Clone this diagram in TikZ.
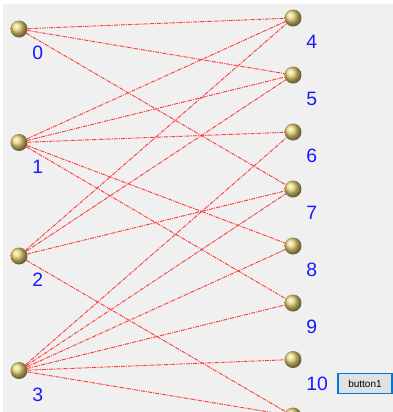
\documentclass[tikz,border=0pt]{standalone}
\usepackage{fontspec}
\setmainfont{Liberation Sans}

\definecolor{formgray}{RGB}{240,240,240}
\definecolor{ballgold}{RGB}{230,210,115}
\definecolor{numblue}{RGB}{25,25,255}
\definecolor{linkred}{RGB}{255,60,60}
\definecolor{focusblue}{RGB}{0,120,215}
\definecolor{buttongray}{RGB}{225,225,225}

\begin{document}
\begin{tikzpicture}[
  x = 0.75pt, y = -0.75pt,
  ball/.style = {
    shape = circle,
    shading = ball,
    ball color = ballgold,
    minimum size = 12.75pt,
    inner sep = 0pt,
    outer sep = 0pt,
  },
  num/.style = {
    anchor = west,
    text = numblue,
    font = \fontsize{14.5}{15}\selectfont,
    inner sep = 0pt,
  },
  link/.style = {
    draw = linkred,
    line width = 0.7pt,
    dash pattern = on 3pt off 0.8pt on 0.8pt off 0.8pt,
  },
  winbutton/.style = {
    draw = focusblue,
    fill = buttongray,
    line width = 1.3pt,
    minimum width = 41pt,
    minimum height = 15pt,
    inner sep = 0pt,
    font = \fontsize{7.5}{8}\selectfont,
  }
]
  % form background
  \fill[white] (0, 0) rectangle (393, 412);
  \fill[formgray] (3, 4) rectangle (393, 412);
  \clip (0, 0) rectangle (393, 412);

  % left column
  \node[ball] (L0) at (19, 29) {};
  \node[ball] (L1) at (19, 142.5) {};
  \node[ball] (L2) at (19, 256) {};
  \node[ball] (L3) at (19, 370.5) {};

  % right column
  \node[ball] (R4) at (293, 18) {};
  \node[ball] (R5) at (293, 75) {};
  \node[ball] (R6) at (293, 132) {};
  \node[ball] (R7) at (293, 189) {};
  \node[ball] (R8) at (293, 246) {};
  \node[ball] (R9) at (293, 303) {};
  \node[ball] (R10) at (293, 359.5) {};
  \node[ball] (R11) at (293, 416) {};

  % numbers under the balls
  \node[num] (N0) at (32, 53) {0};
  \node[num] (N1) at (32, 166.5) {1};
  \node[num] (N2) at (32, 280) {2};
  \node[num] (N3) at (32, 394.5) {3};
  \node[num] (N4) at (306, 42) {4};
  \node[num] (N5) at (306, 99) {5};
  \node[num] (N6) at (306, 156) {6};
  \node[num] (N7) at (306, 213) {7};
  \node[num] (N8) at (306, 270) {8};
  \node[num] (N9) at (306, 327) {9};
  \node[num] (N10) at (306, 383.5) {10};

  % links
  \draw[link] (L0) edge (R4) edge (R5) edge (R7);
  \draw[link] (L1) edge (R4) edge (R5) edge (R6) edge (R8) edge (R9);
  \draw[link] (L2) edge (R4) edge (R5) edge (R7) edge (R11);
  \draw[link] (L3) edge (R6) edge (R7) edge (R8) edge (R9) edge (R10) edge (R11);

  \node[winbutton] (B1) at (365, 383.5) {button1};
\end{tikzpicture}
\end{document}
